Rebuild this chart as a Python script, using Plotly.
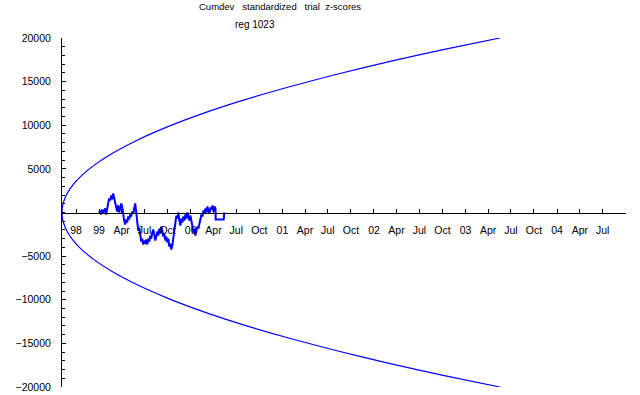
import pandas as pd
import plotly.graph_objects as go

# ---------------- data ----------------
axis_start = "1998-08-06"
axis_end = "2004-10-02"

# envelope: days after axis_start, value of upper branch
env_days = [0, 2, 8, 20, 45, 80, 130, 200, 300, 420, 560, 720, 900, 1100, 1300, 1520, 1746]
env_vals = [0, 677, 1354, 2141, 3211, 4281, 5457, 6769, 8290, 9809, 11327, 12843,
            14359, 15875, 17258, 18661, 20000]

# cumulative deviation, one reading every 4 days starting 1999-01-01
cum_start = "1999-01-01"
cum_step_days = 4
cum_vals = [0, 230, -230, 345, -115, 115, 460, -230, 690, 1035, 1610, 1380, 1955, 1495, 2185,
            1725, 1265, 575, 115, 805, 0, 460, 1035, 690, -230, -920, -1380, -805, -1150, -460,
            -805, -230, -460, 115, -115, 690, 1035, 0, -1150, -2070, -1725, -2760, -3335, -2990,
            -3680, -3220, -3565, -3105, -3680, -2990, -3335, -2645, -2990, -2300, -1955, -2530,
            -3220, -2760, -2185, -2645, -1840, -2415, -1610, -2070, -2760, -2415, -3220, -2760,
            -3450, -2990, -3910, -3565, -4255, -3795, -2990, -2070, -1150, -345, -690, 0, -920,
            -1495, -690, -1150, -460, -920, -230, -690, 0, -460, -920, -345, -1265, -1610, -2300,
            -1840, -2645, -2070, -1610, -1840, -1150, -690, -230, -460, 230, -115, 460, 0, 690,
            230, -115, 575, 345, 805, 115, 690, 460]
# tail of the series (dates, values)
tail_dates = ["2000-04-10", "2000-05-12", "2000-05-14"]
tail_vals = [-805, -805, 0]

tick_dates = ["1998-10-01", "1999-01-01", "1999-04-01", "1999-07-01", "1999-10-01",
              "2000-01-01", "2000-04-01", "2000-07-01", "2000-10-01",
              "2001-01-01", "2001-04-01", "2001-07-01", "2001-10-01",
              "2002-01-01", "2002-04-01", "2002-07-01", "2002-10-01",
              "2003-01-01", "2003-04-01", "2003-07-01", "2003-10-01",
              "2004-01-01", "2004-04-01", "2004-07-01"]
tick_labels = ["98", "99", "Apr", "Jul", "Oct", "00", "Apr", "Jul", "Oct",
               "01", "Apr", "Jul", "Oct", "02", "Apr", "Jul", "Oct",
               "03", "Apr", "Jul", "Oct", "04", "Apr", "Jul"]

y_tick_vals = [20000, 15000, 10000, 5000, -5000, -10000, -15000, -20000]
y_tick_text = ["20000", "15000", "10000", "5000", "\u22125000", "\u221210000",
               "\u221215000", "\u221220000"]

title_line1 = "Cumdev&nbsp;&nbsp; standardized&nbsp;&nbsp; trial&nbsp; z-scores"
title_line2 = "reg 1023"

# ---------------- build ----------------
t0 = pd.Timestamp(axis_start)
env_dates = [t0 + pd.Timedelta(days=d) for d in env_days]
# one continuous path: upper branch from end back to origin, then lower branch
env_x = env_dates[::-1] + env_dates[1:]
env_y = env_vals[::-1] + [-v for v in env_vals[1:]]

c0 = pd.Timestamp(cum_start)
cum_x = [c0 + pd.Timedelta(days=cum_step_days * i) for i in range(len(cum_vals))]
cum_x += [pd.Timestamp(d) for d in tail_dates]
cum_y = cum_vals + tail_vals

BLUE = "#0000FF"
FONT = "Liberation Sans"

fig = go.Figure()
fig.add_trace(go.Scatter(x=env_x, y=env_y, mode="lines",
                         line=dict(color=BLUE, width=1.2, shape="spline", smoothing=0.6),
                         hoverinfo="skip", showlegend=False))
fig.add_trace(go.Scatter(x=cum_x, y=cum_y, mode="lines",
                         line=dict(color=BLUE, width=2),
                         showlegend=False))

fig.update_layout(
    width=640, height=395,
    margin=dict(l=62, r=14, t=38, b=8),
    paper_bgcolor="white", plot_bgcolor="white",
    font=dict(family=FONT, size=11, color="black"),
    showlegend=False,
    xaxis=dict(type="date", range=[axis_start, axis_end],
               anchor="free", position=0.5, automargin=False,
               showline=True, linecolor="black", linewidth=1,
               showgrid=False, zeroline=False,
               tickmode="array", tickvals=tick_dates, ticktext=tick_labels,
               ticks="inside", ticklen=4, tickcolor="black",
               ticklabelstandoff=8,
               tickfont=dict(family=FONT, size=10.5, color="black")),
    yaxis=dict(range=[-20000, 20000], automargin=False,
               showline=True, linecolor="black", linewidth=1,
               showgrid=False, zeroline=False,
               tickmode="array", tickvals=y_tick_vals, ticktext=y_tick_text,
               ticks="inside", ticklen=4, tickcolor="black",
               ticklabelstandoff=8, ticklabeloverflow="allow",
               minor=dict(tickmode="array", tickvals=list(range(-20000, 20001, 1000)),
                          ticks="inside", ticklen=3, tickcolor="black", showgrid=False),
               tickfont=dict(family=FONT, size=10.5, color="black")),
    annotations=[
        dict(text=title_line1, xref="paper", yref="paper",
             x=(280 - 62) / 564, y=1 + 31 / 349, xanchor="center", yanchor="middle",
             showarrow=False, font=dict(family=FONT, size=9.5, color="black")),
        dict(text=title_line2, xref="paper", yref="paper",
             x=(254.5 - 62) / 564, y=1 + 14 / 349, xanchor="center", yanchor="middle",
             showarrow=False, font=dict(family=FONT, size=10, color="black")),
    ],
)

fig.write_html("out.html")
